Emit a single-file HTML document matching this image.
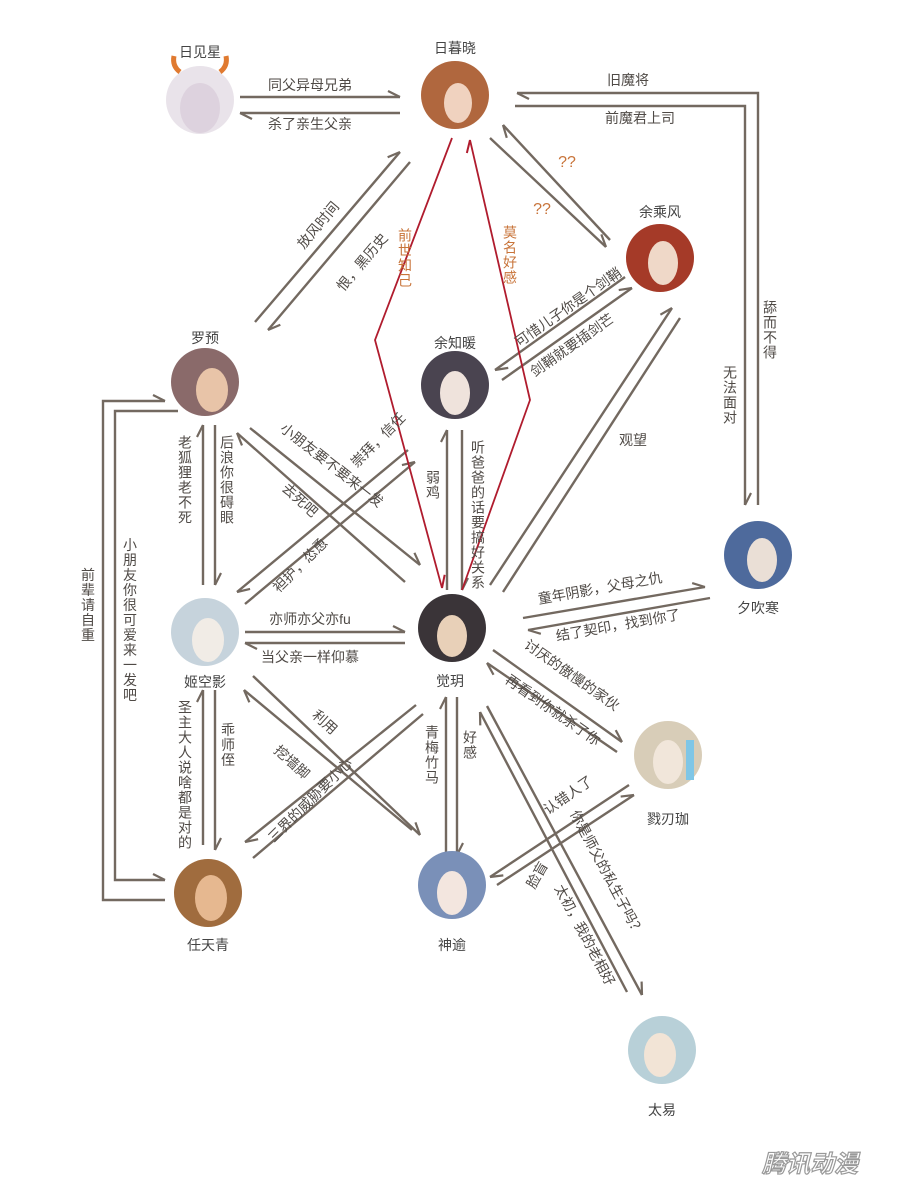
<!DOCTYPE html>
<html><head><meta charset="utf-8"><style>
body{margin:0;background:#fff;}
#w{position:relative;width:900px;height:1200px;overflow:hidden;font-family:"Liberation Sans","Noto Sans CJK SC",sans-serif;color:#4f4a46;}
svg{position:absolute;left:0;top:0;}
.t{position:absolute;font-size:14px;white-space:nowrap;transform:translate(-50%,-50%);line-height:1;}
.v{writing-mode:vertical-rl;letter-spacing:1px;}
.o{color:#c8743a;}
.n{font-size:14px;color:#444;}
</style></head><body><div id="w">
<svg width="900" height="1200" viewBox="0 0 900 1200">
<defs>
<marker id="a" markerUnits="userSpaceOnUse" markerWidth="30" markerHeight="30" refX="15" refY="15" orient="auto" viewBox="0 0 30 30"><path d="M15,15 L3,9" stroke="#736960" stroke-width="2.2" fill="none"/></marker>
<marker id="r" markerUnits="userSpaceOnUse" markerWidth="30" markerHeight="30" refX="15" refY="15" orient="auto" viewBox="0 0 30 30"><path d="M15,15 L3,9" stroke="#b01c2e" stroke-width="2" fill="none"/></marker>
</defs>
<g stroke="#736960" stroke-width="2.4" fill="none" marker-end="url(#a)">
<line x1="240" y1="97" x2="400" y2="97"/>
<line x1="400" y1="113" x2="240" y2="113"/>
<polyline points="758,505 758,93 517,93"/>
<polyline points="515,106 745,106 745,505"/>
<line x1="255" y1="322" x2="400" y2="152"/>
<line x1="410" y1="162" x2="268" y2="330"/>
<line x1="610" y1="240" x2="503" y2="125"/>
<line x1="490" y1="138" x2="606" y2="247"/>
<line x1="625" y1="277" x2="495" y2="370"/>
<line x1="502" y1="380" x2="632" y2="288"/>
<line x1="490" y1="585" x2="672" y2="308"/>
<line x1="503" y1="592" x2="680" y2="318" marker-end="none"/>
<line x1="447" y1="590" x2="447" y2="430"/>
<line x1="462" y1="430" x2="462" y2="590"/>
<line x1="203" y1="585" x2="203" y2="425"/>
<line x1="215" y1="425" x2="215" y2="585"/>
<line x1="250" y1="428" x2="420" y2="565"/>
<line x1="405" y1="582" x2="237" y2="433"/>
<line x1="408" y1="450" x2="237" y2="592"/>
<line x1="245" y1="604" x2="415" y2="462"/>
<line x1="245" y1="632" x2="405" y2="632"/>
<line x1="405" y1="643" x2="245" y2="643"/>
<line x1="523" y1="618" x2="705" y2="587"/>
<line x1="710" y1="598" x2="528" y2="630"/>
<line x1="493" y1="650" x2="622" y2="742"/>
<line x1="617" y1="752" x2="487" y2="663"/>
<line x1="253" y1="676" x2="420" y2="835"/>
<line x1="412" y1="830" x2="244" y2="690"/>
<line x1="416" y1="705" x2="245" y2="842"/>
<line x1="423" y1="714" x2="253" y2="858" marker-end="none"/>
<line x1="446" y1="852" x2="446" y2="697"/>
<line x1="457" y1="697" x2="457" y2="855"/>
<line x1="629" y1="785" x2="490" y2="877"/>
<line x1="497" y1="885" x2="634" y2="795"/>
<line x1="487" y1="706" x2="642" y2="995"/>
<line x1="627" y1="992" x2="480" y2="712"/>
<line x1="203" y1="845" x2="203" y2="690"/>
<line x1="215" y1="690" x2="215" y2="850"/>
<polyline points="165,900 103,900 103,401 165,401"/>
<polyline points="178,411 115,411 115,880 165,880"/>
</g>
<g stroke="#b01c2e" stroke-width="1.8" fill="none" marker-end="url(#r)">
<polyline points="452,138 375,340 442,588"/>
<polyline points="462,590 530,400 470,140"/>
</g>
<g>
<circle cx="200" cy="100" r="34" fill="#e9e3ea"/><ellipse cx="200" cy="108" rx="20" ry="25" fill="#ddd2de"/><path d="M180,72 q-8,-6 -6,-16 M220,72 q8,-6 6,-16" stroke="#e07a30" stroke-width="5" fill="none"/>
<circle cx="455" cy="95" r="34" fill="#b0673e"/><ellipse cx="458" cy="103" rx="14" ry="20" fill="#f0d2bf"/>
<circle cx="660" cy="258" r="34" fill="#a53a28"/><ellipse cx="663" cy="263" rx="15" ry="22" fill="#efd8c8"/>
<circle cx="205" cy="382" r="34" fill="#8a6a6a"/><ellipse cx="212" cy="390" rx="16" ry="22" fill="#e8c4a8"/>
<circle cx="455" cy="385" r="34" fill="#4a4450"/><ellipse cx="455" cy="393" rx="15" ry="22" fill="#efe3dc"/>
<circle cx="758" cy="555" r="34" fill="#4e6a9c"/><ellipse cx="762" cy="560" rx="15" ry="22" fill="#eadfd6"/>
<circle cx="205" cy="632" r="34" fill="#c6d3dc"/><ellipse cx="208" cy="640" rx="16" ry="22" fill="#f1ece6"/>
<circle cx="452" cy="628" r="34" fill="#3a3438"/><ellipse cx="452" cy="636" rx="15" ry="21" fill="#e8d0b8"/>
<circle cx="668" cy="755" r="34" fill="#d8cdb8"/><ellipse cx="668" cy="762" rx="15" ry="22" fill="#f1e6da"/><path d="M690,740 v40" stroke="#7fc6e6" stroke-width="8"/>
<circle cx="208" cy="893" r="34" fill="#a06c3e"/><ellipse cx="211" cy="898" rx="16" ry="23" fill="#e6b890"/>
<circle cx="452" cy="885" r="34" fill="#7a90b8"/><ellipse cx="452" cy="893" rx="15" ry="22" fill="#f3e6df"/>
<circle cx="662" cy="1050" r="34" fill="#b8d0d8"/><ellipse cx="660" cy="1055" rx="16" ry="22" fill="#f2e4d6"/>
</g>
<text x="810" y="1172" font-family="Liberation Sans,Noto Sans CJK SC,sans-serif" font-size="24" font-weight="bold" font-style="italic" fill="#fff" stroke="#999" stroke-width="1.2" text-anchor="middle">腾讯动漫</text>
</svg>
<div class="t n" style="left:200px;top:52px">日见星</div>
<div class="t n" style="left:455px;top:48px">日暮晓</div>
<div class="t n" style="left:660px;top:212px">余乘风</div>
<div class="t n" style="left:205px;top:338px">罗预</div>
<div class="t n" style="left:455px;top:343px">余知暖</div>
<div class="t n" style="left:758px;top:608px">夕吹寒</div>
<div class="t n" style="left:205px;top:682px">姬空影</div>
<div class="t n" style="left:450px;top:681px">觉玥</div>
<div class="t n" style="left:668px;top:819px">戮刃珈</div>
<div class="t n" style="left:208px;top:945px">任天青</div>
<div class="t n" style="left:452px;top:945px">神逾</div>
<div class="t n" style="left:662px;top:1110px">太易</div>

<div class="t" style="left:310px;top:85px">同父异母兄弟</div>
<div class="t" style="left:310px;top:124px">杀了亲生父亲</div>
<div class="t" style="left:628px;top:80px">旧魔将</div>
<div class="t" style="left:640px;top:118px">前魔君上司</div>
<div class="t v" style="left:770px;top:330px">舔而不得</div>
<div class="t v" style="left:730px;top:395px">无法面对</div>
<div class="t" style="left:318px;top:225px;transform:translate(-50%,-50%) rotate(-50deg)">放风时间</div>
<div class="t" style="left:362px;top:262px;transform:translate(-50%,-50%) rotate(-50deg)">恨，黑历史</div>
<div class="t v o" style="left:405px;top:258px">前世知己</div>
<div class="t v o" style="left:510px;top:255px">莫名好感</div>
<div class="t o" style="left:567px;top:163px;font-size:16px">??</div>
<div class="t o" style="left:542px;top:210px;font-size:16px">??</div>
<div class="t" style="left:568px;top:307px;transform:translate(-50%,-50%) rotate(-35deg)">可惜儿子你是个剑鞘</div>
<div class="t" style="left:572px;top:345px;transform:translate(-50%,-50%) rotate(-35deg)">剑鞘就要插剑芒</div>
<div class="t" style="left:633px;top:440px">观望</div>
<div class="t v" style="left:433px;top:485px">弱鸡</div>
<div class="t v" style="left:478px;top:515px">听爸爸的话要搞好关系</div>
<div class="t v" style="left:185px;top:480px">老狐狸老不死</div>
<div class="t v" style="left:227px;top:480px">后浪你很碍眼</div>
<div class="t" style="left:332px;top:465px;transform:translate(-50%,-50%) rotate(38deg)">小朋友要不要来一发</div>
<div class="t" style="left:300px;top:500px;transform:translate(-50%,-50%) rotate(42deg)">去死吧</div>
<div class="t" style="left:378px;top:440px;transform:translate(-50%,-50%) rotate(-45deg)">崇拜，信任</div>
<div class="t" style="left:300px;top:565px;transform:translate(-50%,-50%) rotate(-45deg)">袒护，怂恿</div>
<div class="t" style="left:310px;top:619px">亦师亦父亦fu</div>
<div class="t" style="left:310px;top:657px">当父亲一样仰慕</div>
<div class="t" style="left:600px;top:588px;transform:translate(-50%,-50%) rotate(-10deg)">童年阴影，父母之仇</div>
<div class="t" style="left:618px;top:625px;transform:translate(-50%,-50%) rotate(-10deg)">结了契印，找到你了</div>
<div class="t" style="left:572px;top:675px;transform:translate(-50%,-50%) rotate(35deg)">讨厌的傲慢的家伙</div>
<div class="t" style="left:553px;top:710px;transform:translate(-50%,-50%) rotate(35deg)">再看到你就杀了你</div>
<div class="t" style="left:325px;top:722px;transform:translate(-50%,-50%) rotate(42deg)">利用</div>
<div class="t" style="left:292px;top:762px;transform:translate(-50%,-50%) rotate(42deg)">挖墙脚</div>
<div class="t" style="left:310px;top:800px;transform:translate(-50%,-50%) rotate(-45deg)">三界的威胁要小心</div>
<div class="t v" style="left:432px;top:755px">青梅竹马</div>
<div class="t v" style="left:470px;top:745px">好感</div>
<div class="t" style="left:568px;top:795px;transform:translate(-50%,-50%) rotate(-35deg)">认错人了</div>
<div class="t" style="left:537px;top:875px;transform:translate(-50%,-50%) rotate(-60deg)">脸盲</div>
<div class="t" style="left:607px;top:873px;transform:translate(-50%,-50%) rotate(62deg)">你是师父的私生子吗？</div>
<div class="t" style="left:585px;top:935px;transform:translate(-50%,-50%) rotate(62deg)">太初，我的老相好</div>
<div class="t v" style="left:185px;top:775px">圣主大人说啥都是对的</div>
<div class="t v" style="left:228px;top:745px">乖师侄</div>
<div class="t v" style="left:130px;top:620px">小朋友你很可爱来一发吧</div>
<div class="t v" style="left:88px;top:605px">前辈请自重</div>
</div></body></html>
